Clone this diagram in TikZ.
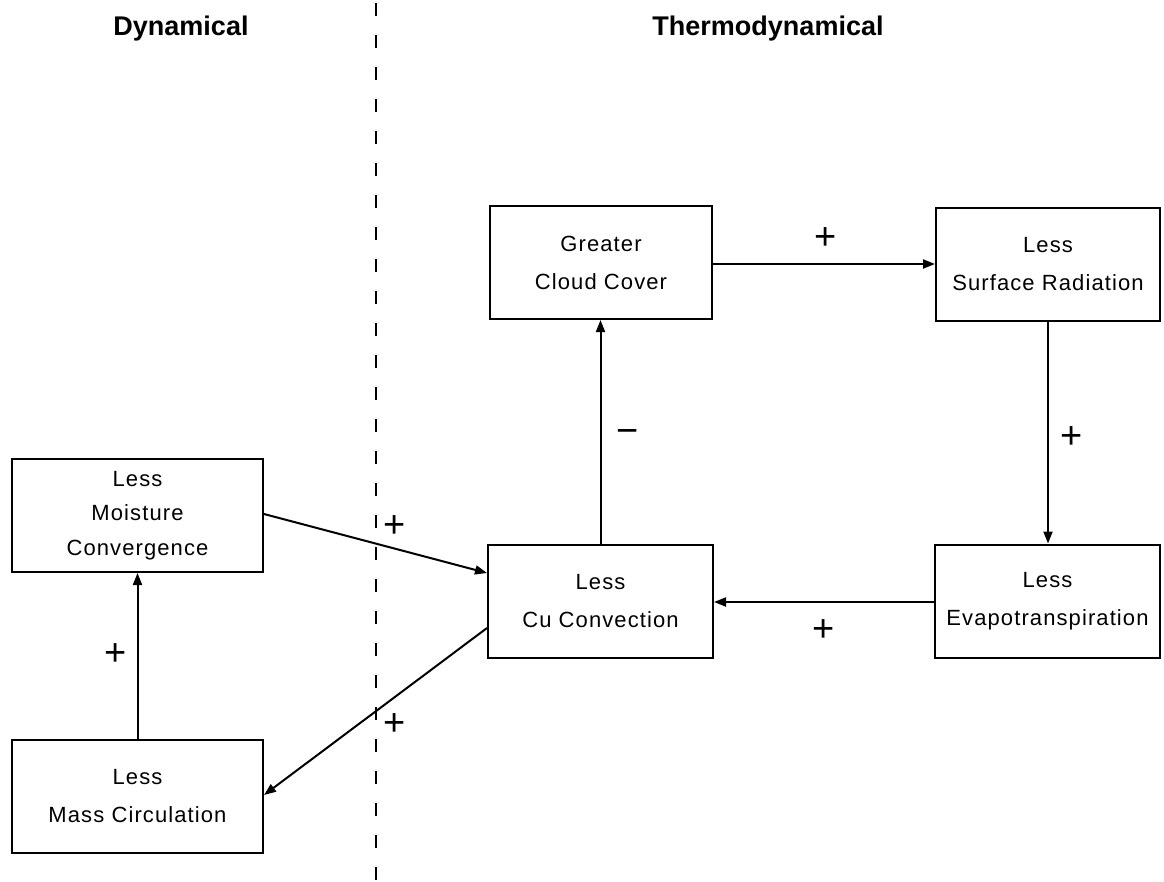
\documentclass[tikz,border=0pt]{standalone}
\usepackage{fontspec}
\setmainfont{Liberation Sans}
\newfontfamily\boxfont[LetterSpace=5]{Liberation Sans}
\usetikzlibrary{arrows.meta,calc}
\begin{document}
\begin{tikzpicture}[x=1pt,y=-1pt,
  box/.style={draw, line width=2pt, align=center, inner sep=0pt,
    minimum height=113pt, font={\boxfont\fontsize{22}{38}\selectfont}},
  box3/.style={box, font={\boxfont\fontsize{22}{34.5}\selectfont}},
  head/.style={font={\fontsize{27}{30}\selectfont\bfseries}, anchor=base, inner sep=0pt},
  sign/.style={font={\fontsize{38}{38}\selectfont}, inner sep=0pt},
  conn/.style={line width=2pt, -{Triangle[length=12pt,width=9pt]}},
  divider/.style={line width=2pt, dash pattern=on 13pt off 19pt}]
\useasboundingbox (0,0) rectangle (1164,881);
\fill[white] (0,0) rectangle (1164,881);

\node[head] (hdyn) at (181,35) {Dynamical};
\node[head] (hthermo) at (768,35) {Thermodynamical};
\coordinate (dtop) at (376,3);
\coordinate (dbot) at (376,881);
\draw[divider] (dtop) -- (dbot);

\node[box, minimum width=222pt] (cloud) at (601,262.5) {Greater\\Cloud Cover};
\node[box, minimum width=224pt] (srad) at (1048,264.5) {Less\\Surface Radiation};
\node[box3, minimum width=251pt] (moist) at (137.5,515.5) {Less\\Moisture\\Convergence};
\node[box, minimum width=225pt] (cu) at (600.5,601) {Less\\Cu Convection};
\node[box, minimum width=225pt] (evap) at (1047.5,601) {Less\\Evapotranspiration};
\node[box, minimum width=251pt] (mass) at (137.5,796) {Less\\Mass Circulation};

\draw[conn] (cloud.east |- 0,264) -- (srad.west |- 0,264);
\draw[conn] (srad.south) -- (srad.south |- evap.north);
\draw[conn] (evap.west |- 0,602) -- (cu.east |- 0,602);
\draw[conn] (cu.north) -- (cu.north |- cloud.south);
\draw[conn] (mass.north) -- (moist.south);
\draw[conn] (moist.east |- 0,514) -- (cu.west |- 0,573);
\draw[conn] (cu.west |- 0,628) -- (mass.east |- 0,795);

\node[sign] (p1) at (826,239) {+};
\node[sign] (p2) at (1072,438) {+};
\node[sign] (p3) at (824,631) {+};
\node[sign] (m1) at (628,436) {−};
\node[sign] (p4) at (395,527) {+};
\node[sign] (p5) at (395,725) {+};
\node[sign] (p6) at (116,655) {+};
\end{tikzpicture}
\end{document}
